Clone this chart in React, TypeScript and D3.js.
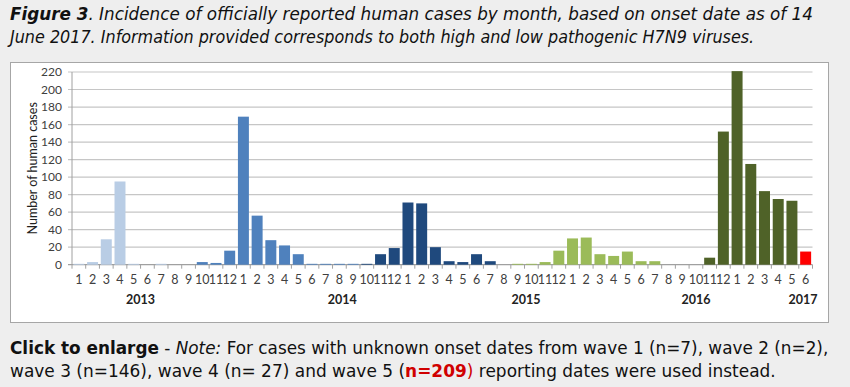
import React, { useEffect, useRef } from 'react';
import * as d3 from 'd3';

// monthly human cases by onset date
const years = ['2013', '2014', '2015', '2016', '2017'];
const cases2013 = [1, 3, 29, 95, 1, 0, 1, 0, 0, 3, 2, 16];
const cases2014 = [169, 56, 28, 22, 12, 1, 1, 1, 1, 1, 12, 19];
const cases2015 = [71, 70, 20, 4, 3, 12, 4, 0, 1, 1, 3, 16];
const cases2016 = [30, 31, 12, 10, 15, 4, 4, 0, 0, 0, 8, 152];
const cases2017 = [221, 115, 84, 75, 73, 15];

// epidemic wave of each month (6 = current, incomplete month)
const wave2013 = [1, 1, 1, 1, 1, 1, 1, 1, 1, 2, 2, 2];
const wave2014 = [2, 2, 2, 2, 2, 2, 2, 2, 2, 3, 3, 3];
const wave2015 = [3, 3, 3, 3, 3, 3, 3, 3, 4, 4, 4, 4];
const wave2016 = [4, 4, 4, 4, 4, 4, 4, 4, 4, 5, 5, 5];
const wave2017 = [5, 5, 5, 5, 5, 6];

const yTicks = [0, 20, 40, 60, 80, 100, 120, 140, 160, 180, 200, 220];

export default function App() {
  const svgRef = useRef<SVGSVGElement>(null);

  useEffect(() => {
    if (!svgRef.current) return;
    const svg = d3.select(svgRef.current);
    svg.selectAll('*').remove();

    const allCases = [cases2013, cases2014, cases2015, cases2016, cases2017];
    const allWaves = [wave2013, wave2014, wave2015, wave2016, wave2017];
    const data = allCases.flatMap((arr, yi) =>
      arr.map((v, mi) => ({ year: years[yi], month: mi + 1, value: v, wave: allWaves[yi][mi] }))
    );

    const W = 850, H = 387;
    svg.append('rect').attr('width', W).attr('height', H).attr('fill', '#eeeeee');

    // chart panel
    svg.append('rect')
      .attr('x', 10.5).attr('y', 62.5).attr('width', 818).attr('height', 260)
      .attr('fill', '#fff').attr('stroke', '#a6a6a6');

    const left = 72, right = 812.5, top = 72, bottom = 264.7;
    const x = d3.scaleBand<number>()
      .domain(data.map((_, i) => i))
      .range([left, right])
      .paddingInner(0.2)
      .paddingOuter(0.1);
    const y = d3.scaleLinear().domain([0, 220]).range([bottom, top]);

    const waveColor = d3.scaleOrdinal<number, string>()
      .domain([1, 2, 3, 4, 5, 6])
      .range(['#b9cde5', '#4f81bd', '#1f497d', '#9bbb59', '#4f6228', '#ff0000']);

    const axisFont = 'Lato, "Liberation Sans", sans-serif';

    // gridlines + y ticks
    const g = svg.append('g');
    g.selectAll('line.grid')
      .data(yTicks)
      .enter()
      .append('line')
      .attr('x1', left - 4).attr('x2', right)
      .attr('y1', d => y(d)).attr('y2', d => y(d))
      .attr('stroke', d => (d === 0 ? '#a0a0a0' : '#c6c6c6'))
      .attr('stroke-width', 1.2);

    g.append('line')
      .attr('x1', left).attr('x2', left)
      .attr('y1', top).attr('y2', bottom)
      .attr('stroke', '#a0a0a0');

    g.selectAll('text.ytick')
      .data(yTicks)
      .enter()
      .append('text')
      .attr('x', 62).attr('y', d => y(d) + 4)
      .attr('text-anchor', 'end')
      .attr('font-family', axisFont).attr('font-size', 12)
      .attr('fill', '#404040')
      .text(d => d);

    // bars
    g.selectAll('rect.bar')
      .data(data)
      .enter()
      .append('rect')
      .attr('x', (_, i) => x(i)!)
      .attr('y', d => y(d.value))
      .attr('width', x.bandwidth())
      .attr('height', d => bottom - y(d.value))
      .attr('fill', d => waveColor(d.wave));

    // x ticks at category boundaries
    const step = x.step();
    const bounds = d3.range(data.length + 1).map(i => left + i * step);
    g.selectAll('line.xtick')
      .data(bounds)
      .enter()
      .append('line')
      .attr('x1', d => d).attr('x2', d => d)
      .attr('y1', bottom).attr('y2', bottom + 4)
      .attr('stroke', '#a0a0a0');

    g.selectAll('text.xlab')
      .data(data)
      .enter()
      .append('text')
      .attr('x', (_, i) => x(i)! + x.bandwidth() / 2)
      .attr('y', 284)
      .attr('text-anchor', 'middle')
      .attr('font-family', axisFont).attr('font-size', 12.5)
      .attr('fill', '#404040')
      .text(d => d.month);

    // year labels, placed loosely under each year like the original
    const yearAt = [5, 19.7, 33.1, 45.5, 53.3];
    g.selectAll('text.year')
      .data(years)
      .enter()
      .append('text')
      .attr('x', (_, i) => left + yearAt[i] * step)
      .attr('y', 304)
      .attr('text-anchor', 'middle')
      .attr('font-family', axisFont).attr('font-size', 12.5)
      .attr('font-weight', 'bold')
      .attr('fill', '#222')
      .text(d => d);

    g.append('text')
      .attr('transform', `translate(37,${(top + bottom) / 2}) rotate(-90)`)
      .attr('text-anchor', 'middle')
      .attr('font-family', axisFont).attr('font-size', 12.5)
      .attr('fill', '#222')
      .text('Number of human cases');

    // title and note, squeezed to the original line widths
    const textFont = '"DejaVu Sans", Verdana, sans-serif';
    const lines: { y: number; width: number; parts: { t: string; bold?: boolean; italic?: boolean; color?: string }[] }[] = [
      { y: 20, width: 804, parts: [
        { t: 'Figure 3', bold: true, italic: true },
        { t: '. Incidence of officially reported human cases by month, based on onset date as of 14', italic: true },
      ] },
      { y: 43, width: 745, parts: [
        { t: 'June 2017. Information provided corresponds to both high and low pathogenic H7N9 viruses.', italic: true },
      ] },
      { y: 354, width: 819, parts: [
        { t: 'Click to enlarge', bold: true },
        { t: ' - ' },
        { t: 'Note:', italic: true },
        { t: ' For cases with unknown onset dates from wave 1 (n=7), wave 2 (n=2),' },
      ] },
      { y: 377, width: 766, parts: [
        { t: 'wave 3 (n=146), wave 4 (n= 27) and wave 5 (' },
        { t: 'n=209', bold: true, color: '#d00000' },
        { t: ')', color: '#d00000' },
        { t: ' reporting dates were used instead.' },
      ] },
    ];

    lines.forEach(line => {
      const t = svg.append('text')
        .attr('font-family', textFont).attr('font-size', 18.5)
        .attr('fill', '#111')
        .attr('transform', `translate(10,${line.y})`);
      line.parts.forEach(p => {
        t.append('tspan')
          .attr('font-weight', p.bold ? 'bold' : 'normal')
          .attr('font-style', p.italic ? 'italic' : 'normal')
          .attr('fill', p.color || '#111')
          .text(p.t);
      });
      const node = t.node() as SVGTextElement;
      const w = node.getComputedTextLength();
      if (w > 0) t.attr('transform', `translate(10,${line.y}) scale(${line.width / w},1)`);
    });
  }, []);

  return (
    <svg
      ref={svgRef}
      width={850}
      height={387}
      style={{ position: 'absolute', left: 0, top: 0 }}
    />
  );
}
